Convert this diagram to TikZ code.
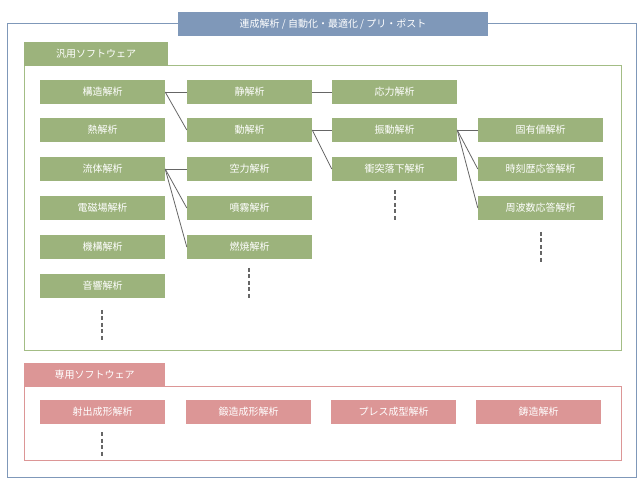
\documentclass[tikz,border=0pt]{standalone}
\usepackage{fontspec}
\setmainfont{Noto Sans CJK JP}
\begin{document}
\begin{tikzpicture}[x=1pt,y=-1pt,
  gbox/.style={fill=gfill,draw=none,text=white,minimum width=125pt,minimum height=24pt,inner sep=0pt,font=\fontsize{10}{12}\selectfont},
  pbox/.style={fill=pfill,draw=none,text=white,minimum width=125pt,minimum height=24pt,inner sep=0pt,font=\fontsize{10}{12}\selectfont},
  conn/.style={draw=gray!80!black,line width=0.8pt},
  dots/.style={draw=gray!80!black,line width=1.5pt,dash pattern=on 4pt off 2.5pt}]
\definecolor{gfill}{HTML}{9CB37C}
\definecolor{gline}{HTML}{A3BD85}
\definecolor{pfill}{HTML}{DC9696}
\definecolor{bfill}{HTML}{7F98B9}
\useasboundingbox (0,0) rectangle (643,486);
\draw[bfill,line width=1pt] (7,24) rectangle (636,477);
\node[fill=bfill,text=white,minimum width=310pt,minimum height=24pt,inner sep=0pt,font=\fontsize{10}{12}\selectfont] (title) at (333,24) {連成解析 / 自動化・最適化 / プリ・ポスト};
\draw[gline,line width=1pt] (24,66) rectangle (621,351);
\node[fill=gfill,text=white,minimum width=144pt,minimum height=24pt,inner sep=0pt,anchor=south west,font=\fontsize{10}{12}\selectfont] (gtab) at (24,66) {汎用ソフトウェア};
\draw[pfill,line width=1pt] (24,387) rectangle (621,460);
\node[fill=pfill,text=white,minimum width=141pt,minimum height=24pt,inner sep=0pt,anchor=south west,font=\fontsize{10}{12}\selectfont] (ptab) at (24,387) {専用ソフトウェア};
% column 1
\node[gbox] (a1) at (102.5,92) {構造解析};
\node[gbox] (a2) at (102.5,130) {熱解析};
\node[gbox] (a3) at (102.5,169) {流体解析};
\node[gbox] (a4) at (102.5,208) {電磁場解析};
\node[gbox] (a5) at (102.5,247) {機構解析};
\node[gbox] (a6) at (102.5,286) {音響解析};
% column 2
\node[gbox] (b1) at (249.5,92) {静解析};
\node[gbox] (b2) at (249.5,130) {動解析};
\node[gbox] (b3) at (249.5,169) {空力解析};
\node[gbox] (b4) at (249.5,208) {噴霧解析};
\node[gbox] (b5) at (249.5,247) {燃焼解析};
% column 3
\node[gbox] (c1) at (394.5,92) {応力解析};
\node[gbox] (c2) at (394.5,130) {振動解析};
\node[gbox] (c3) at (394.5,169) {衝突落下解析};
% column 4
\node[gbox] (d2) at (540.5,130) {固有値解析};
\node[gbox] (d3) at (540.5,169) {時刻歴応答解析};
\node[gbox] (d4) at (540.5,208) {周波数応答解析};
% connectors
\draw[conn] (a1.east) -- (b1.west);
\draw[conn] (a1.east) -- (b2.west);
\draw[conn] (b1.east) -- (c1.west);
\draw[conn] (b2.east) -- (c2.west);
\draw[conn] (b2.east) -- (c3.west);
\draw[conn] (a3.east) -- (b3.west);
\draw[conn] (a3.east) -- (b4.west);
\draw[conn] (a3.east) -- (b5.west);
\draw[conn] (c2.east) -- (d2.west);
\draw[conn] (c2.east) -- (d3.west);
\draw[conn] (c2.east) -- (d4.west);
% dots
\coordinate (e1) at (102,310); \coordinate (e2) at (102,341);
\coordinate (f1) at (249,268); \coordinate (f2) at (249,299);
\coordinate (g1) at (395,190); \coordinate (g2) at (395,221);
\coordinate (h1) at (541,232); \coordinate (h2) at (541,263);
\draw[dots] (e1) -- (e2);
\draw[dots] (f1) -- (f2);
\draw[dots] (g1) -- (g2);
\draw[dots] (h1) -- (h2);
% pink
\node[pbox] (p1) at (102.5,412) {射出成形解析};
\node[pbox] (p2) at (248.5,412) {鍛造成形解析};
\node[pbox] (p3) at (393.5,412) {プレス成型解析};
\node[pbox] (p4) at (538.5,412) {鋳造解析};
\coordinate (k1) at (102,432); \coordinate (k2) at (102,456);
\draw[dots] (k1) -- (k2);
\end{tikzpicture}
\end{document}
